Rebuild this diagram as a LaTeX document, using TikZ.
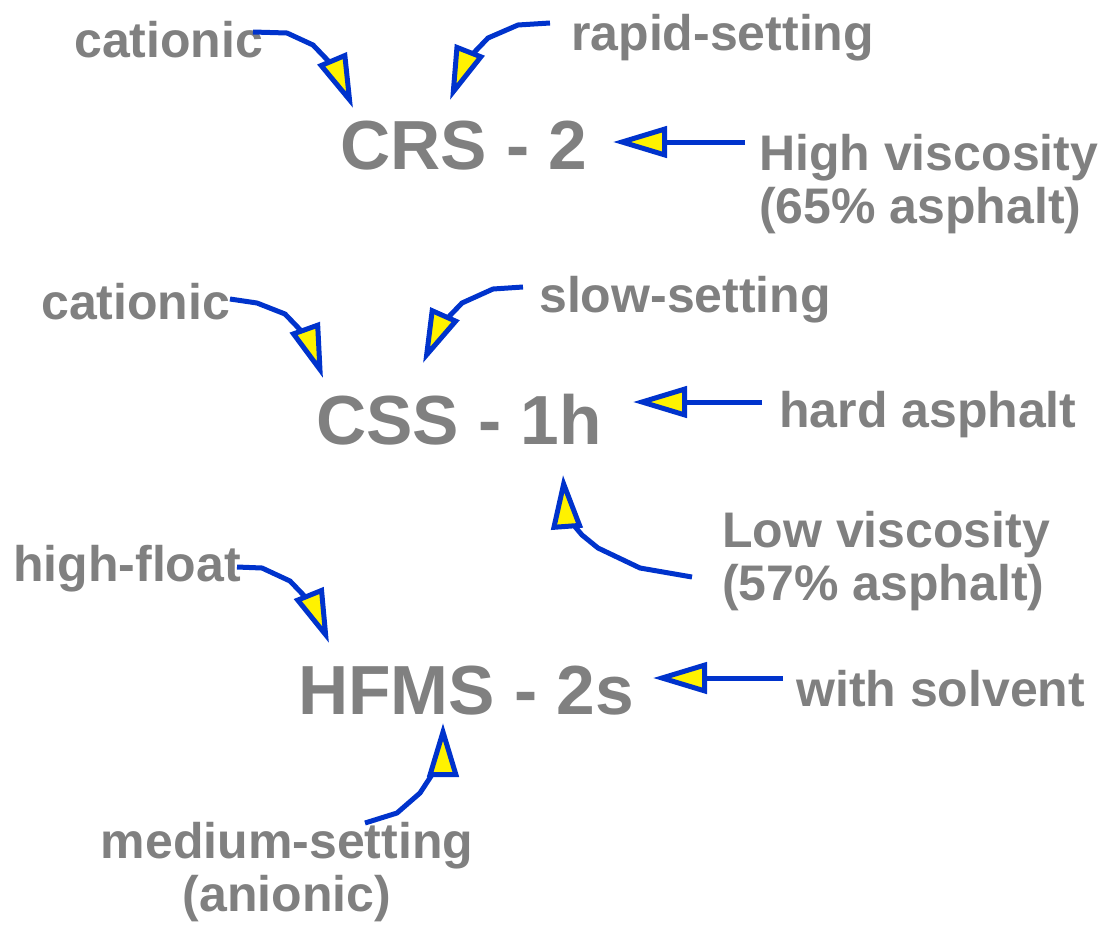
\documentclass[tikz,border=0pt]{standalone}
\usepackage{fontspec}
\setmainfont{Liberation Sans}
\usetikzlibrary{arrows.meta}
\definecolor{labelgray}{RGB}{128,128,128}
\definecolor{linkblue}{RGB}{0,51,204}
\begin{document}
\begin{tikzpicture}[x=1pt,y=-1pt,
  code/.style={font=\fontsize{69.5}{76}\selectfont\bfseries, text=labelgray, inner sep=0pt, anchor=base west},
  note/.style={font=\fontsize{50}{53}\selectfont\bfseries, text=labelgray, inner sep=0pt, anchor=base west},
  twoline/.style={font=\fontsize{50}{53}\selectfont\bfseries, text=labelgray, inner sep=0pt},
  link/.style={draw=linkblue, line width=5pt, line join=round,
    -{Triangle[length=54pt,width=31pt,fill=yellow,line width=5pt]}}]
\useasboundingbox (0,0) rectangle (1105,924);

% emulsion codes
\node[code] (crs)  at (340,169) {CRS - 2};
\node[code] (css)  at (316,444) {CSS - 1h};
\node[code] (hfms) at (298,714) {HFMS - 2s};

% descriptive labels
\node[note] (cat1)  at (74,57)   {cationic};
\node[note] (rapid) at (571,50)  {rapid-setting};
\node[twoline, anchor=north west, align=left] (highv) at (759,134) {High viscosity\\(65\% asphalt)};
\node[note] (cat2)  at (41,319)  {cationic};
\node[note] (slow)  at (539,312) {slow-setting};
\node[note] (hard)  at (779,427) {hard asphalt};
\node[twoline, anchor=north west, align=left] (lowv) at (722,511) {Low viscosity\\(57\% asphalt)};
\node[note] (hfloat) at (13,581) {high-float};
\node[note] (solv)  at (796,706) {with solvent};
\node[twoline, anchor=north, align=center] (medset) at (287,822) {medium-setting\\(anionic)};

% connector end points
\coordinate (t1) at (253,32);   \coordinate (h1) at (353,108);
\coordinate (t2) at (550,23);   \coordinate (h2) at (450,100);
\coordinate (t3) at (745,142);  \coordinate (h3) at (613,142);
\coordinate (t4) at (230,299);  \coordinate (h4) at (323,378);
\coordinate (t5) at (523,287);  \coordinate (h5) at (423,363);
\coordinate (t6) at (762,402);  \coordinate (h6) at (633,402);
\coordinate (t7) at (692,577);  \coordinate (h7) at (563,475);
\coordinate (t8) at (237,567);  \coordinate (h8) at (329,643);
\coordinate (t9) at (783,678);  \coordinate (h9) at (653,678);
\coordinate (t10) at (365,823); \coordinate (h10) at (443,723);

% connectors
\draw[link] (t1) -- (287,33) -- (313,45) -- (337,70) -- (h1);
\draw[link] (t2) -- (518,25) -- (488,38) -- (465,62) -- (h2);
\draw[link] (t3) -- (h3);
\draw[link] (t4) -- (257,303) -- (285,314) -- (309,339) -- (h4);
\draw[link] (t5) -- (493,289) -- (462,303) -- (439,327) -- (h5);
\draw[link] (t6) -- (h6);
\draw[link] (t7) -- (640,568) -- (598,548) -- (582,535) -- (566,516) -- (h7);
\draw[link] (t8) -- (262,568) -- (290,581) -- (314,606) -- (h8);
\draw[link] (t9) -- (h9);
\draw[link] (t10) -- (397,813) -- (420,793) -- (437,767) -- (443,763) -- (h10);
\end{tikzpicture}
\end{document}
